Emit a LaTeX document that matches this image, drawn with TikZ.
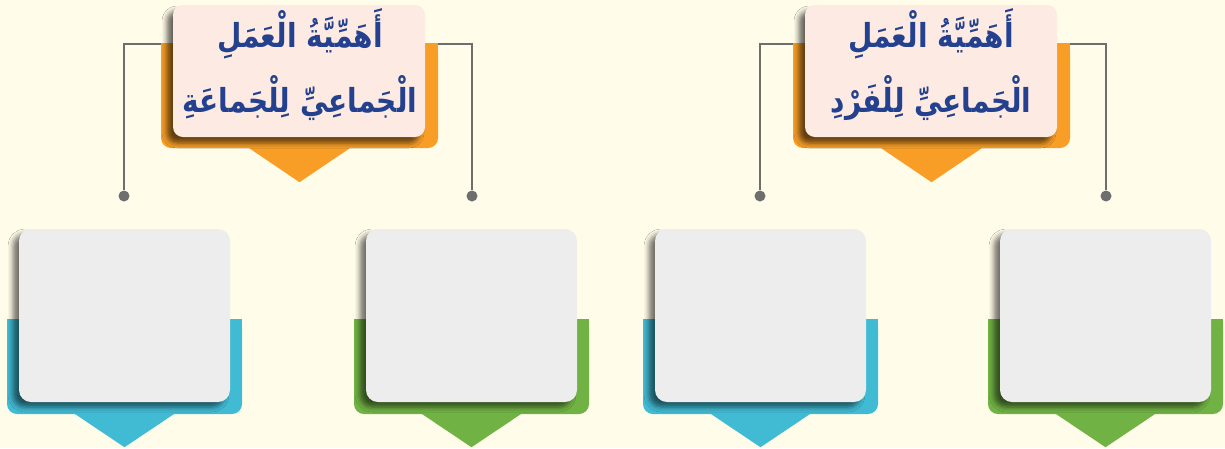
\documentclass[tikz,border=0pt]{standalone}
\usepackage{fontspec}
\usepackage{graphicx}
\newfontfamily\arabicfont[Script=Arabic]{DejaVu Sans}
\TeXXeTstate=1
\usetikzlibrary{calc,shadows.blur}

\definecolor{bgcream}{HTML}{FFFCE9}
\definecolor{tabblue}{HTML}{41BAD3}
\definecolor{tabgreen}{HTML}{70B244}
\definecolor{taborange}{HTML}{F89E27}
\definecolor{cardgray}{HTML}{EDEDED}
\definecolor{titlepink}{HTML}{FDEAE3}
\definecolor{inkblue}{HTML}{23418E}
\definecolor{wiregray}{HTML}{6E6E6E}

% taller Arabic heading line
\newcommand{\headline}[1]{\scalebox{1}[1.18]{\beginR #1\endR}}

\begin{document}
\begin{tikzpicture}[x=1pt,y=-1pt,
    card/.style={fill=cardgray, rounded corners=12pt, inner sep=0pt,
        minimum width=211pt, minimum height=173pt,
        blur shadow={shadow xshift=-6pt, shadow yshift=-5pt, shadow blur radius=5pt, shadow opacity=55}},
    tab/.style={fill=#1, rounded corners=10pt, inner sep=0pt,
        minimum width=235pt, minimum height=95pt},
    headtab/.style={fill=taborange, rounded corners=10pt, inner sep=0pt,
        minimum width=277pt, minimum height=105pt},
    titlebox/.style={fill=titlepink, rounded corners=10pt, inner sep=0pt,
        minimum width=252pt, minimum height=132pt,
        blur shadow={shadow xshift=-6pt, shadow yshift=-6pt, shadow blur radius=5pt, shadow opacity=60}},
    titletext/.style={anchor=base, text=inkblue, inner sep=0pt,
        font=\arabicfont\bfseries\fontsize{28}{32}\selectfont},
    wire/.style={draw=wiregray, line width=2pt},
    dot/.style={circle, fill=wiregray, minimum size=11pt, inner sep=0pt}
]
    % Background and page size
    \useasboundingbox (0,0) rectangle (1225,448);
    \fill[bgcream] (0,0) rectangle (1225,448);

    % Four empty cards on coloured tabs
    \foreach \i/\cx/\col in {1/124.5/tabblue, 2/471.5/tabgreen, 3/760.5/tabblue, 4/1105.5/tabgreen} {
        \node[tab=\col] (tab\i) at (\cx,366.5) {};
        % square off the upper corners of the tab
        \fill[\col] (tab\i.north west) rectangle ($(tab\i.north east)+(0,14)$);
        % pointer under the tab
        \fill[\col] ($(tab\i.south)+(-50,-0.5)$) -- ($(tab\i.south)+(50,-0.5)$) -- ($(tab\i.south)+(0,33)$) -- cycle;
        \node[card] (card\i) at (\cx,315.5) {};
    }

    % Left header
    \node[headtab] (headL) at (299.5,95.5) {};
    \fill[taborange] (headL.north west) rectangle ($(headL.north east)+(0,14)$);
    \fill[taborange] ($(headL.south)+(-51,-0.5)$) -- ($(headL.south)+(51,-0.5)$) -- ($(headL.south)+(0,34)$) -- cycle;
    \node[titlebox] (boxL) at (299,71) {};
    \node[titletext] (titleL1) at (300,47) {\headline{أَهَمِّيَّةُ الْعَمَلِ}};
    \node[titletext] (titleL2) at (300,112) {\headline{الْجَماعِيِّ لِلْجَماعَةِ}};

    % Right header
    \node[headtab] (headR) at (931.5,95.5) {};
    \fill[taborange] (headR.north west) rectangle ($(headR.north east)+(0,14)$);
    \fill[taborange] ($(headR.south)+(-51,-0.5)$) -- ($(headR.south)+(51,-0.5)$) -- ($(headR.south)+(0,34)$) -- cycle;
    \node[titlebox] (boxR) at (931,71) {};
    \node[titletext] (titleR1) at (931,47) {\headline{أَهَمِّيَّةُ الْعَمَلِ}};
    \node[titletext] (titleR2) at (931,112) {\headline{الْجَماعِيِّ لِلْفَرْدِ}};

    % Dots at the ends of the connectors
    \node[dot] (dot1) at (124,196) {};
    \node[dot] (dot2) at (472,196) {};
    \node[dot] (dot3) at (760,196) {};
    \node[dot] (dot4) at (1106,196) {};

    % Connectors from the headers down to the dots
    \draw[wire] ($(headL.north west)+(0,1)$) -| (dot1);
    \draw[wire] ($(headL.north east)+(0,1)$) -| (dot2);
    \draw[wire] ($(headR.north west)+(0,1)$) -| (dot3);
    \draw[wire] ($(headR.north east)+(0,1)$) -| (dot4);

\end{tikzpicture}
\end{document}
